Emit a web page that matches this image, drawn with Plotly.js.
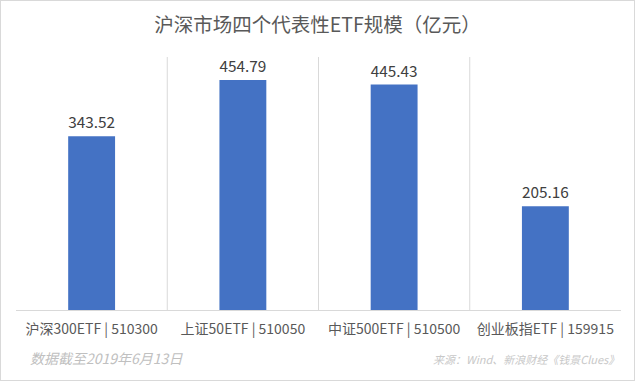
<!DOCTYPE html>
<html><head><meta charset="utf-8">
<script src="https://cdn.plot.ly/plotly-3.0.1.min.js"></script>
<style>
html,body{margin:0;padding:0;background:#fff;}
#wrap{position:relative;width:635px;height:381px;}
#chart{width:635px;height:381px;}
#border{position:absolute;left:0;top:0;width:635px;height:381px;box-sizing:border-box;border:1px solid #d9d9d9;pointer-events:none;}
</style></head>
<body>
<div id="wrap"><div id="chart"></div><div id="border"></div></div>
<script>
const categories = ["沪深300ETF | 510300", "上证50ETF | 510050", "中证500ETF | 510500", "创业板指ETF | 159915"];
const values = [343.52, 454.79, 445.43, 205.16];
const valueLabels = ["343.52", "454.79", "445.43", "205.16"];
const titleText = "沪深市场四个代表性ETF规模（亿元）";
const noteLeft = "数据截至2019年6月13日";
const noteRight = "来源：Wind、新浪财经《钱景Clues》";

const font = "'Noto Sans CJK SC', 'Noto Sans', sans-serif";

const boundaries = [];
for (let i = 0; i < categories.length - 1; i++) boundaries.push(i + 0.5);

const trace = {
  type: "bar",
  x: categories,
  y: values,
  text: valueLabels,
  textposition: "outside",
  textfont: {family: font, size: 19.5, color: "#404040"},
  marker: {color: "#4472c4"},
  width: 0.31,
  hoverinfo: "none",
  cliponaxis: false
};

const layout = {
  width: 635, height: 381,
  margin: {l: 16, r: 14, t: 57, b: 71},
  paper_bgcolor: "#ffffff", plot_bgcolor: "#ffffff",
  showlegend: false,
  title: {text: titleText, x: 0.5, xanchor: "center", y: 0.935, yanchor: "middle",
          font: {family: font, size: 19.5, color: "#595959"}},
  xaxis: {type: "category", showgrid: false, zeroline: false, showline: true,
          linecolor: "#d9d9d9", linewidth: 1, ticks: "", ticklabelstandoff: 6,
          tickfont: {family: font, size: 14, color: "#595959"}, fixedrange: true},
  yaxis: {range: [0, 500], showgrid: false, zeroline: false, showticklabels: false,
          showline: false, ticks: "", fixedrange: true},
  shapes: boundaries.map(b => ({type: "line", xref: "x", yref: "paper", x0: b, x1: b, y0: 0, y1: 1,
          line: {color: "#d9d9d9", width: 1}, layer: "below"})),
  annotations: [
    {text: noteLeft, xref: "paper", yref: "paper", x: 12/605, y: -48/253, xanchor: "left", yanchor: "middle",
     showarrow: false, font: {family: font, size: 14, color: "#c0c0c0"}},
    {text: noteRight, xref: "paper", yref: "paper", x: 1, y: -49/253, xanchor: "right", yanchor: "middle",
     showarrow: false, font: {family: font, size: 11, color: "#c8c8c8"}}
  ]
};

Plotly.newPlot("chart", [trace], layout, {displayModeBar: false, staticPlot: true}).then(() => {
  document.querySelectorAll(".annotation-text").forEach(t => t.style.fontStyle = "italic");
});
</script>
</body></html>
